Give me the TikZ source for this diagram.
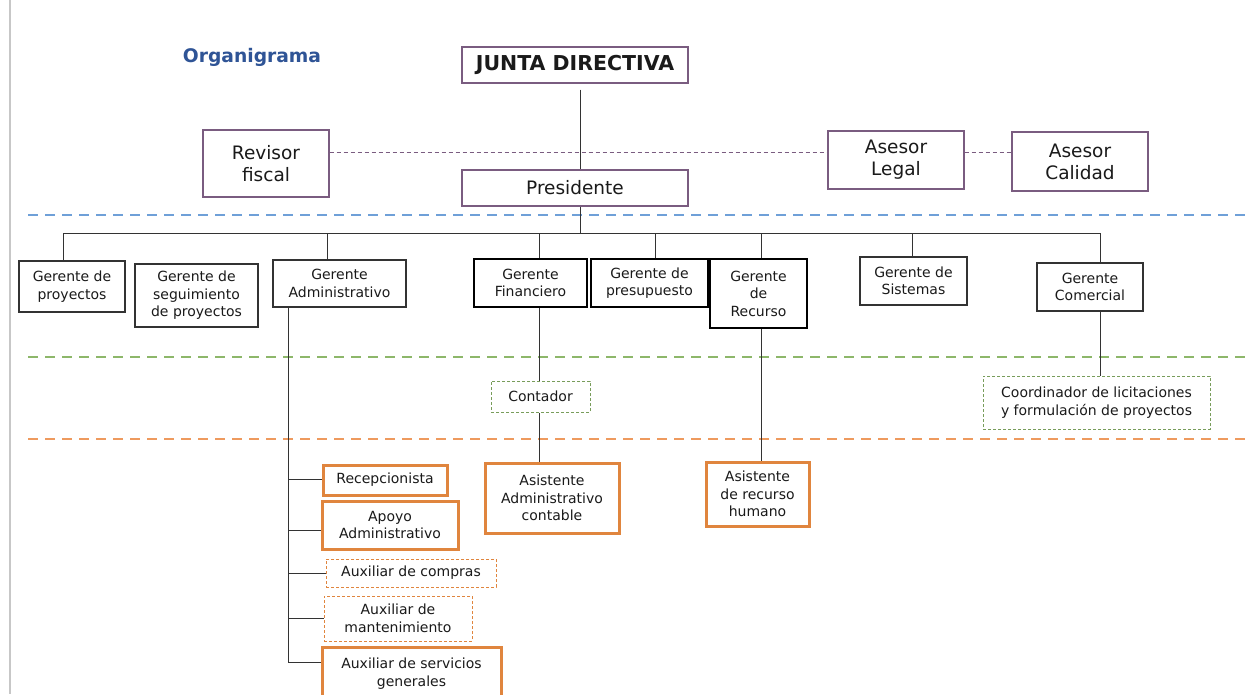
\documentclass[tikz,border=0pt]{standalone}
\usepackage{fontspec}
\setmainfont{DejaVu Sans}
\definecolor{txt}{HTML}{1A1A1A}
\definecolor{purp}{HTML}{7A5C80}
\definecolor{titleblue}{HTML}{2F5496}
\definecolor{sepblue}{HTML}{6FA0D8}
\definecolor{sepgreen}{HTML}{8DB76A}
\definecolor{seporange}{HTML}{EE9A5E}
\definecolor{boxorange}{HTML}{E0853E}
\definecolor{edge}{HTML}{333333}
\begin{document}
\begin{tikzpicture}[x=1pt,y=-1pt,
  box/.style={draw, inner sep=0pt, align=center, text=txt, font=\fontsize{14}{17.5}\selectfont},
  bigbox/.style={box, draw=purp, line width=1.3pt, font=\fontsize{18.5}{22}\selectfont},
  thinbox/.style={box, draw=edge, line width=1.3pt},
  thickbox/.style={box, draw=black, line width=2.7pt},
  orbox/.style={box, draw=boxorange, line width=3pt},
  ordash/.style={box, draw=boxorange, line width=1pt, dash pattern=on 3pt off 2pt},
  grdash/.style={box, draw=sepgreen!85!black, line width=1pt, dash pattern=on 3pt off 2pt},
  sep/.style={line width=2.5pt, dash pattern=on 10pt off 7pt},
  conn/.style={draw=edge, line width=1pt},
  pconn/.style={draw=purp, line width=1pt, dash pattern=on 4pt off 3pt}]
\useasboundingbox (0,0) rectangle (1249,694);
\fill[white] (0,0) rectangle (1249,694);
\draw[line width=1.5pt, draw=black!22] (10,0) -- (10,694);

% separators
\draw[sep, draw=sepblue] (28,215) -- (1249,215);
\draw[sep, draw=sepgreen] (28,357) -- (1249,357);
\draw[sep, draw=seporange] (28,439) -- (1249,439);

% title
\node[text=titleblue, font=\fontsize{18.7}{22}\selectfont\bfseries] (title) at (252,57) {Organigrama};

% top
\node[box, draw=purp, line width=1.3pt, font=\fontsize{20.5}{22}\selectfont\bfseries, minimum width=226, minimum height=36] (junta) at (575,65) {JUNTA DIRECTIVA};
\node[bigbox, minimum width=226, minimum height=36] (pres) at (575,188) {Presidente};
\node[bigbox, minimum width=126, minimum height=67] (rev) at (266,163.5) {Revisor\\fiscal};
\node[bigbox, minimum width=136, minimum height=58] (leg) at (896,160) {Asesor\\Legal};
\node[bigbox, minimum width=136, minimum height=59] (cal) at (1080,161.5) {Asesor\\Calidad};

% managers
\node[thinbox, minimum width=106, minimum height=51] (gp) at (72,286.5) {Gerente de\\proyectos};
\node[thinbox, minimum width=123, minimum height=63] (gsp) at (196.5,295.5) {Gerente de\\seguimiento\\de proyectos};
\node[thinbox, minimum width=133, minimum height=47] (ga) at (339.5,283.5) {Gerente\\Administrativo};
\node[thickbox, minimum width=113, minimum height=48] (gf) at (530.5,283) {Gerente\\Financiero};
\node[thickbox, minimum width=117, minimum height=48] (gpr) at (649.5,283) {Gerente de\\presupuesto};
\node[thickbox, minimum width=97, minimum height=69] (gr) at (758.5,293.5) {Gerente\\de\\Recurso};
\node[thinbox, minimum width=107, minimum height=48] (gs) at (913.5,281) {Gerente de\\Sistemas};
\node[thinbox, minimum width=106, minimum height=48] (gc) at (1090,287) {Gerente\\Comercial};

% second level
\node[grdash, minimum width=99, minimum height=31] (cont) at (540.5,396.5) {Contador};
\node[grdash, minimum width=227, minimum height=53] (coord) at (1096.5,402.5) {Coordinador de licitaciones\\y formulación de proyectos};

% third level
\node[orbox, minimum width=134, minimum height=70] (aac) at (552,498) {Asistente\\Administrativo\\contable};
\node[orbox, minimum width=103, minimum height=64] (arh) at (757.5,494) {Asistente\\de recurso\\humano};
\node[orbox, minimum width=124, minimum height=30] (rec) at (385,480) {Recepcionista};
\node[orbox, minimum width=136, minimum height=48] (apo) at (390,525) {Apoyo\\Administrativo};
\node[ordash, minimum width=170, minimum height=28] (com) at (411,573) {Auxiliar de compras};
\node[ordash, minimum width=148, minimum height=45] (man) at (398,618.5) {Auxiliar de\\mantenimiento};
\node[orbox, minimum width=179, minimum height=53] (serv) at (411.5,673.5) {Auxiliar de servicios\\generales};

% connectors top
\draw[conn] ([xshift=5pt,yshift=-6pt]junta.south) -- ([xshift=5pt]pres.north);
\coordinate (pl) at (0,152.5);
\draw[pconn] (rev.east |- pl) -- (leg.west |- pl);
\draw[pconn] (leg.east |- pl) -- (cal.west |- pl);

% bus
\coordinate (d1) at (63,233);
\coordinate (d2) at (327,233);
\coordinate (d3) at (539,233);
\coordinate (d4) at (655,233);
\coordinate (d5) at (761,233);
\coordinate (d6) at (912,233);
\coordinate (d7) at (1100,233);
\coordinate (dp) at (580,233);
\draw[conn] ([xshift=5pt]pres.south) -- (dp);
\draw[conn] (d1) -- (d7);
\draw[conn] (d1) -- (d1 |- gp.north);
\draw[conn] (d2) -- (d2 |- ga.north);
\draw[conn] (d3) -- (d3 |- gf.north);
\draw[conn] (d4) -- (d4 |- gpr.north);
\draw[conn] (d5) -- (d5 |- gr.north);
\draw[conn] (d6) -- (d6 |- gs.north);
\draw[conn] (d7) -- (d7 |- gc.north);

% lower connectors
\draw[conn] (d3 |- gf.south) -- (d3 |- cont.north);
\draw[conn] (d3 |- cont.south) -- (d3 |- aac.north);
\draw[conn] (d5 |- gr.south) -- (d5 |- arh.north);
\draw[conn] (d7 |- gc.south) -- (d7 |- coord.north);

% admin branches
\coordinate (b1) at (288,479);
\coordinate (b2) at (288,530);
\coordinate (b3) at (288,573);
\coordinate (b4) at (288,618);
\coordinate (b5) at (288,662);
\draw[conn] (b5 |- ga.south) -- (b5);
\draw[conn] (b1) -- (b1 -| rec.west);
\draw[conn] (b2) -- (b2 -| apo.west);
\draw[conn] (b3) -- (b3 -| com.west);
\draw[conn] (b4) -- (b4 -| man.west);
\draw[conn] (b5) -- (b5 -| serv.west);
\end{tikzpicture}
\end{document}
